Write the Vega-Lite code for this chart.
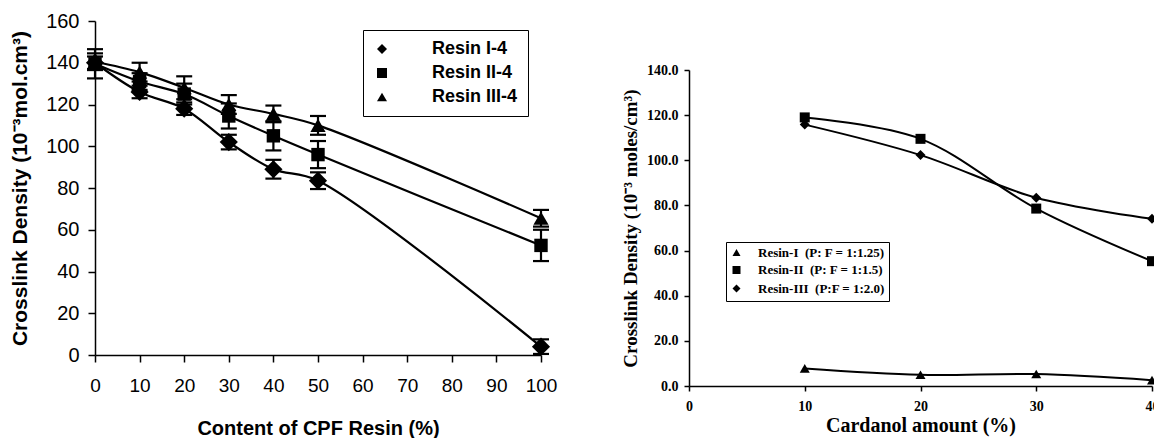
{
  "$schema": "https://vega.github.io/schema/vega-lite/v6.json",
  "padding": {"left": 9, "top": 11, "right": 0, "bottom": 0},
  "spacing": 64,
  "resolve": {
    "scale": {"shape": "independent", "x": "independent", "y": "independent"},
    "legend": {"shape": "independent"}
  },
  "config": {
    "view": {"stroke": null},
    "axis": {"grid": false, "domainColor": "black", "tickColor": "black", "labelColor": "black", "titleColor": "black"}
  },
  "datasets": {
    "left": [
      {"resin": "Resin I-4", "content": 0, "density": 140, "err": 3},
      {"resin": "Resin I-4", "content": 10, "density": 126, "err": 3},
      {"resin": "Resin I-4", "content": 20, "density": 118, "err": 3},
      {"resin": "Resin I-4", "content": 30, "density": 102, "err": 3.5},
      {"resin": "Resin I-4", "content": 40, "density": 89, "err": 4.5},
      {"resin": "Resin I-4", "content": 50, "density": 83.5, "err": 4},
      {"resin": "Resin I-4", "content": 100, "density": 4, "err": 3.5},
      {"resin": "Resin II-4", "content": 0, "density": 139.5, "err": 7},
      {"resin": "Resin II-4", "content": 10, "density": 131, "err": 4},
      {"resin": "Resin II-4", "content": 20, "density": 125, "err": 5},
      {"resin": "Resin II-4", "content": 30, "density": 114.5, "err": 6},
      {"resin": "Resin II-4", "content": 40, "density": 105, "err": 7},
      {"resin": "Resin II-4", "content": 50, "density": 96, "err": 6.5},
      {"resin": "Resin II-4", "content": 100, "density": 52.5, "err": 7.5},
      {"resin": "Resin III-4", "content": 0, "density": 140.5, "err": 4},
      {"resin": "Resin III-4", "content": 10, "density": 135.5, "err": 4.5},
      {"resin": "Resin III-4", "content": 20, "density": 128, "err": 5.5},
      {"resin": "Resin III-4", "content": 30, "density": 120, "err": 4.5},
      {"resin": "Resin III-4", "content": 40, "density": 115.5, "err": 4},
      {"resin": "Resin III-4", "content": 50, "density": 110, "err": 4.5},
      {"resin": "Resin III-4", "content": 100, "density": 65.5, "err": 4}
    ],
    "right": [
      {"resin": "Resin-I", "cardanol": 10, "density": 7.8},
      {"resin": "Resin-I", "cardanol": 20, "density": 5},
      {"resin": "Resin-I", "cardanol": 30, "density": 5.3},
      {"resin": "Resin-I", "cardanol": 40, "density": 2.6},
      {"resin": "Resin-II", "cardanol": 10, "density": 119},
      {"resin": "Resin-II", "cardanol": 20, "density": 109.5},
      {"resin": "Resin-II", "cardanol": 30, "density": 78.6},
      {"resin": "Resin-II", "cardanol": 40, "density": 55.3},
      {"resin": "Resin-III", "cardanol": 10, "density": 115.8},
      {"resin": "Resin-III", "cardanol": 20, "density": 102.3},
      {"resin": "Resin-III", "cardanol": 30, "density": 83.4},
      {"resin": "Resin-III", "cardanol": 40, "density": 74.1}
    ]
  },
  "hconcat": [
    {
      "width": 446,
      "height": 334,
      "data": {"name": "left"},
      "encoding": {
        "x": {
          "field": "content", "type": "quantitative",
          "scale": {"domain": [0, 100], "nice": false},
          "axis": {
            "values": [0, 10, 20, 30, 40, 50, 60, 70, 80, 90, 100],
            "title": "Content of CPF Resin (%)",
            "labelFont": "Liberation Sans", "labelFontSize": 19, "labelFlush": false,
            "titleFont": "Liberation Sans", "titleFontSize": 20, "titleFontWeight": "bold",
            "tickSize": 7, "labelPadding": 14, "titlePadding": 23,
            "domainWidth": 1.5, "tickWidth": 1.5
          }
        },
        "y": {
          "field": "density", "type": "quantitative",
          "scale": {"domain": [0, 160], "nice": false},
          "axis": {
            "values": [0, 20, 40, 60, 80, 100, 120, 140, 160],
            "title": "Crosslink Density (10⁻³mol.cm³)",
            "labelFont": "Liberation Sans", "labelFontSize": 20, "labelFlush": false,
            "titleFont": "Liberation Sans", "titleFontSize": 21, "titleFontWeight": "bold",
            "tickSize": 7, "labelPadding": 9, "titlePadding": 15,
            "domainWidth": 1.5, "tickWidth": 1.5
          }
        }
      },
      "layer": [
        {
          "mark": {"type": "line", "interpolate": "catmull-rom", "color": "black", "strokeWidth": 2.2},
          "encoding": {"detail": {"field": "resin"}}
        },
        {
          "mark": {"type": "errorbar", "color": "black", "opacity": 1, "ticks": {"size": 16, "thickness": 2.2, "color": "black", "opacity": 1}, "rule": {"strokeWidth": 2.2, "color": "black", "opacity": 1}},
          "encoding": {"yError": {"field": "err"}, "detail": {"field": "resin"}}
        },
        {
          "transform": [{"filter": "datum.resin === 'Resin I-4'"}],
          "mark": {"type": "point", "filled": true, "color": "black", "opacity": 1, "size": 330},
          "encoding": {
            "shape": {
              "field": "resin", "type": "nominal",
              "scale": {"domain": ["Resin I-4", "Resin II-4", "Resin III-4"], "range": ["diamond", "square", "triangle-up"]},
              "legend": {
                "orient": "none", "legendX": 268, "legendY": 9, "title": null,
                "strokeColor": "black", "fillColor": "white", "padding": 10, "rowPadding": 6,
                "symbolSize": 100, "symbolFillColor": "black", "symbolStrokeColor": "black", "symbolStrokeWidth": 2,
                "labelFont": "Liberation Sans", "labelFontSize": 18, "labelFontWeight": "bold", "labelColor": "black", "labelOffset": 41,
                "values": ["Resin I-4", "Resin II-4", "Resin III-4"]
              }
            }
          }
        },
        {
          "transform": [{"filter": "datum.resin === 'Resin II-4'"}],
          "mark": {"type": "point", "filled": true, "color": "black", "opacity": 1, "size": 180},
          "encoding": {"shape": {"field": "resin", "type": "nominal"}}
        },
        {
          "transform": [{"filter": "datum.resin === 'Resin III-4'"}],
          "mark": {"type": "point", "filled": true, "color": "black", "opacity": 1, "size": 230},
          "encoding": {"shape": {"field": "resin", "type": "nominal"}}
        }
      ]
    },
    {
      "spacing": 20,
      "vconcat": [
        {
          "width": 463,
          "height": 22,
          "data": {"values": []},
          "mark": "point"
        },
        {
          "width": 463,
          "height": 316,
          "data": {"name": "right"},
          "encoding": {
            "x": {
              "field": "cardanol", "type": "quantitative",
              "scale": {"domain": [0, 40], "nice": false},
              "axis": {
                "values": [0, 10, 20, 30, 40],
                "title": "Cardanol amount (%)",
                "labelFont": "Liberation Serif", "labelFontSize": 14, "labelFontWeight": "bold", "labelFlush": false,
                "titleFont": "Liberation Serif", "titleFontSize": 20, "titleFontWeight": "bold",
                "tickSize": 5, "labelPadding": 8, "titlePadding": 2,
                "domainWidth": 1.5, "tickWidth": 1.5
              }
            },
            "y": {
              "field": "density", "type": "quantitative",
              "scale": {"domain": [0, 140], "nice": false},
              "axis": {
                "values": [0, 20, 40, 60, 80, 100, 120, 140],
                "format": ".1f", "labelFlush": false,
                "title": "Crosslink Density (10⁻³ moles/cm³)",
                "labelFont": "Liberation Serif", "labelFontSize": 14, "labelFontWeight": "bold",
                "titleFont": "Liberation Serif", "titleFontSize": 19, "titleFontWeight": "bold",
                "tickSize": 5, "labelPadding": 6, "titlePadding": 6,
                "domainWidth": 1.5, "tickWidth": 1.5
              }
            }
          },
          "layer": [
            {
              "mark": {"type": "line", "interpolate": "catmull-rom", "color": "black", "strokeWidth": 2},
              "encoding": {"detail": {"field": "resin"}}
            },
            {
              "mark": {"type": "point", "filled": true, "color": "black", "opacity": 1, "size": 100},
              "encoding": {
                "shape": {
                  "field": "resin", "type": "nominal",
                  "scale": {"domain": ["Resin-I", "Resin-II", "Resin-III"], "range": ["triangle-up", "square", "diamond"]},
                  "legend": {
                    "orient": "none", "legendX": 37, "legendY": 221, "title": null,
                    "strokeColor": "black", "fillColor": "white", "padding": 4, "rowPadding": 1.5,
                    "symbolSize": 64, "symbolFillColor": "black", "symbolStrokeColor": "black", "symbolStrokeWidth": 2,
                    "labelFont": "Liberation Serif", "labelFontSize": 13, "labelFontWeight": "bold", "labelColor": "black", "labelOffset": 15,
                    "labelExpr": "datum.value === 'Resin-I' ? 'Resin-I\u00a0\u00a0(P: F = 1:1.25)' : datum.value === 'Resin-II' ? 'Resin-II\u00a0\u00a0(P: F = 1:1.5)' : 'Resin-III\u00a0\u00a0(P:F = 1:2.0)'"
                  }
                }
              }
            }
          ]
        }
      ]
    }
  ]
}
